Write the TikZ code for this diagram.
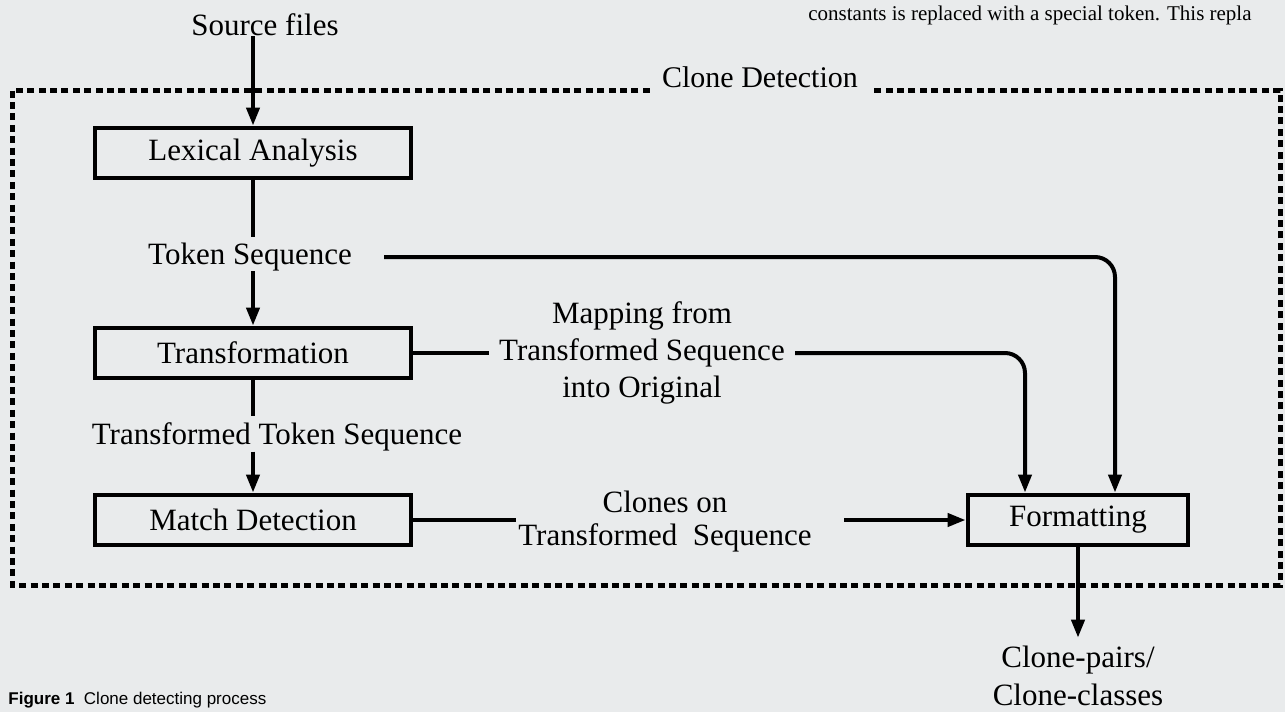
\documentclass[tikz,border=0pt]{standalone}
\usepackage{fontspec}
\setmainfont{Liberation Serif}
\setsansfont{Liberation Sans}
\usetikzlibrary{arrows.meta}
\definecolor{paper}{RGB}{233,235,236}

\begin{document}
\begin{tikzpicture}[x=0.5pt,y=-0.5pt,
  stage/.style={draw,line width=2.4pt,minimum width=158pt,minimum height=25pt,inner sep=0pt,font=\fontsize{15.5}{18}\selectfont},
  lbl/.style={inner sep=0pt,align=center,font=\fontsize{15.5}{18.5}\selectfont},
  flow/.style={line width=2pt,-{Triangle[length=9pt,width=6.5pt]}},
  link/.style={line width=2pt},
  frame/.style={line width=2.5pt,dash pattern=on 3.5pt off 2.2pt}]

\fill[paper] (0,0) rectangle (1285,712);
\useasboundingbox (0,0) rectangle (1285,712);

\node[anchor=base west,inner sep=0pt,font=\fontsize{10.5}{12}\selectfont] (pg) at (808,20) {constants is replaced with a special token. This repla};
\node[anchor=base west,inner sep=0pt,font=\sffamily\fontsize{8.5}{10}\selectfont] (cap) at (8,704) {\textbf{Figure 1}\ \ Clone detecting process};

\node[lbl] (src) at (265,25) {Source files};
\node[lbl,font=\fontsize{15}{18}\selectfont] (cd) at (760,77) {Clone Detection};
\node[stage] (lex) at (253,153) {Lexical Analysis};
\node[lbl] (tok) at (250,257) {Token Sequence};
\node[stage] (trf) at (253,353) {Transformation};
\node[lbl] (map) at (642,353) {Mapping from\\Transformed Sequence\\into Original};
\node[lbl] (ttok) at (277,437) {Transformed Token Sequence};
\node[stage] (mat) at (253,520) {Match Detection};
\node[lbl,font=\fontsize{15.5}{16.5}\selectfont] (cln) at (665,522) {Clones on\\Transformed\ \ Sequence};
\node[stage,minimum width=110pt] (fmt) at (1078,520) {Formatting};
\node[lbl,font=\fontsize{15.5}{19}\selectfont] (out) at (1078,676) {Clone-pairs/\\Clone-classes};

\coordinate (ftl) at (12,90);
\coordinate (fbr) at (1280,585);

\draw[flow] (src.south -| lex.north) -- (lex.north);
\draw[link,shorten >=3pt] (lex.south) -- (lex.south |- tok.north);
\draw[flow] (tok.south -| trf.north) -- (trf.north);
\draw[link,shorten >=3pt] (trf.south) -- (trf.south |- ttok.north);
\draw[flow] (ttok.south -| mat.north) -- (mat.north);
\draw[link,shorten >=5pt] (trf.east) -- (trf.east -| map.west);
\draw[link,shorten >=1pt] (mat.east) -- (mat.east -| cln.west);
\draw[flow,rounded corners=10pt] ([xshift=16pt]tok.east) -| ([xshift=18.5pt]fmt.north);
\draw[flow,rounded corners=10pt] ([xshift=5pt]map.east) -| ([xshift=-26.5pt]fmt.north);
\draw[flow] ([xshift=16pt]cln.east |- fmt.west) -- (fmt.west);
\draw[flow,shorten >=4pt] (fmt.south) -- (out.north);

\draw[frame] ([xshift=-6pt]cd.west |- ftl) -- (ftl) -- (ftl |- fbr) -- (fbr) -- (fbr |- ftl) -- ([xshift=8pt]cd.east |- ftl);

\end{tikzpicture}
\end{document}
